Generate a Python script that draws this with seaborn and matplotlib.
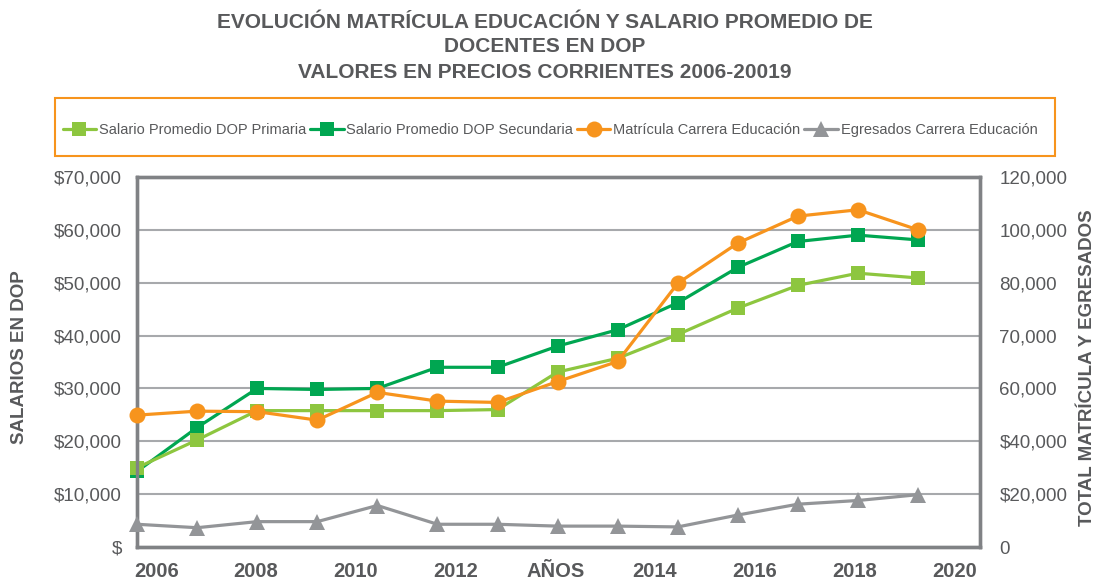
import numpy as np
import pandas as pd
import seaborn as sns
import matplotlib
matplotlib.use("Agg")
import matplotlib.pyplot as plt
from matplotlib.patches import Rectangle

# data
years = [2006, 2007, 2008, 2009, 2010, 2011, 2012, 2013, 2014, 2015, 2016, 2017, 2018, 2019]
sal_primaria = [15000, 20250, 25800, 25800, 25800, 25800, 26000, 33100, 35700, 40200, 45200, 49500, 51800, 50900]
sal_secundaria = [14300, 22600, 30000, 29800, 30000, 34000, 34000, 38000, 41100, 46200, 52900, 57800, 59000, 58100]
matricula = [49900, 51400, 51200, 48000, 58500, 55200, 54700, 61300, 65100, 79900, 95000, 105200, 107600, 100000]
egresados = [8600, 7300, 9600, 9600, 15700, 8600, 8600, 7900, 7900, 7600, 12100, 16200, 17600, 19800]

left_ticks = [0, 10000, 20000, 30000, 40000, 50000, 60000, 70000]
left_labels = ["$", "$10,000", "$20,000", "$30,000", "$40,000", "$50,000", "$60,000", "$70,000"]
right_ticks = [0, 20000, 40000, 60000, 70000, 80000, 100000, 120000]
right_labels = ["0", "$20,000", "$40,000", "60,000", "70,000", "80,000", "100,000", "120,000"]
x_labels = ["2006", "2008", "2010", "2012", "AÑOS", "2014", "2016", "2018", "2020"]

TXT = "#58595B"
C_PRI = "#8DC63F"
C_SEC = "#00A651"
C_MAT = "#F7941D"
C_EGR = "#939598"

df = pd.DataFrame({"year": years, "pri": sal_primaria, "sec": sal_secundaria,
                   "mat": matricula, "egr": egresados})

sns.set_style("white")
plt.rcParams["font.family"] = ["Liberation Sans", "DejaVu Sans"]

fig = plt.figure(figsize=(10.96, 5.83), dpi=100)
ax = fig.add_axes([137 / 1096, 36 / 583, 843 / 1096, 370 / 583])
ax2 = ax.twinx()

# right axis is not linear in the original: map its labels onto the left gridlines
def fwd(v):
    return np.interp(v, right_ticks, left_ticks)

def inv(p):
    return np.interp(p, left_ticks, right_ticks)

ax2.set_yscale("function", functions=(fwd, inv))

lw = 2.3
sns.lineplot(data=df, x="year", y="sec", ax=ax, color=C_SEC, lw=lw, marker="s",
             markersize=9.5, markeredgewidth=0, label="Salario Promedio DOP Secundaria",
             clip_on=False, zorder=3)
sns.lineplot(data=df, x="year", y="pri", ax=ax, color=C_PRI, lw=lw, marker="s",
             markersize=10.5, markeredgewidth=0, label="Salario Promedio DOP Primaria",
             clip_on=False, zorder=4)
sns.lineplot(data=df, x="year", y="mat", ax=ax2, color=C_MAT, lw=lw, marker="o",
             markersize=11.5, markeredgewidth=0, label="Matrícula Carrera Educación",
             clip_on=False, zorder=3)
sns.lineplot(data=df, x="year", y="egr", ax=ax2, color=C_EGR, lw=lw, marker="^",
             markersize=12, markeredgewidth=0, label="Egresados Carrera Educación",
             clip_on=False, zorder=3)

ax.set_xlim(2006, 2006 + 14.03)
ax.set_ylim(0, 70000)
ax2.set_ylim(0, 120000)

ax.set_yticks(left_ticks)
ax.set_yticklabels(left_labels)
ax2.set_yticks(right_ticks)
ax2.set_yticklabels(right_labels)
ax2.yaxis.set_minor_locator(matplotlib.ticker.NullLocator())
ax.set_xticks(np.linspace(2006.32, 2019.6, 9))
ax.set_xticklabels(x_labels, fontweight="bold", fontsize=14.5)

ax.tick_params(axis="y", length=0, labelsize=13.5, labelcolor=TXT, pad=11)
ax2.tick_params(axis="y", length=0, labelsize=13.5, labelcolor=TXT, pad=14)
ax.tick_params(axis="x", length=0, labelcolor=TXT, pad=11)

ax.grid(axis="y", color="#A7A9AC", lw=1.5)
ax.grid(axis="x", visible=False)
ax2.grid(False)
ax.set_xlabel("")
ax.set_ylabel("")
ax2.set_ylabel("")

for sp in ax.spines.values():
    sp.set_color("#808285")
    sp.set_linewidth(2.4)
for sp in ax2.spines.values():
    sp.set_color("#808285")
    sp.set_linewidth(2.4)

# legend with both axes
h1, l1 = ax.get_legend_handles_labels()
h2, l2 = ax2.get_legend_handles_labels()
ax.get_legend().remove()
ax2.get_legend().remove()
order = [1, 0]
handles = [h1[i] for i in order] + h2
labels = [l1[i] for i in order] + l2
fig.legend(handles, labels, loc="center", bbox_to_anchor=(550 / 1096, 1 - 130 / 583),
           ncol=4, frameon=False, fontsize=10.5, handlelength=2.3, handletextpad=0.2,
           columnspacing=0.25, labelcolor=TXT, borderaxespad=0)
fig.patches.append(Rectangle((55 / 1096, 1 - 156 / 583), 1000 / 1096, 58 / 583,
                             transform=fig.transFigure, fill=False,
                             edgecolor=C_MAT, lw=1.5))

titles = ["EVOLUCIÓN MATRÍCULA EDUCACIÓN Y SALARIO PROMEDIO DE",
          "DOCENTES EN DOP",
          "VALORES EN PRECIOS CORRIENTES 2006-20019"]
for i, t in enumerate(titles):
    fig.text(545 / 1096, 1 - (22 + 25 * i) / 583, t, ha="center", va="center",
             fontsize=15, fontweight="bold", color=TXT)

fig.text(20 / 1096, 1 - 357 / 583, "SALARIOS EN DOP", rotation=90, ha="center",
         va="center", fontsize=13.5, fontweight="bold", color=TXT)
fig.text(1087 / 1096, 1 - 368 / 583, "TOTAL MATRÍCULA Y EGRESADOS", rotation=90,
         ha="center", va="center", fontsize=13.5, fontweight="bold", color=TXT)

fig.savefig("out.png", dpi=100)
